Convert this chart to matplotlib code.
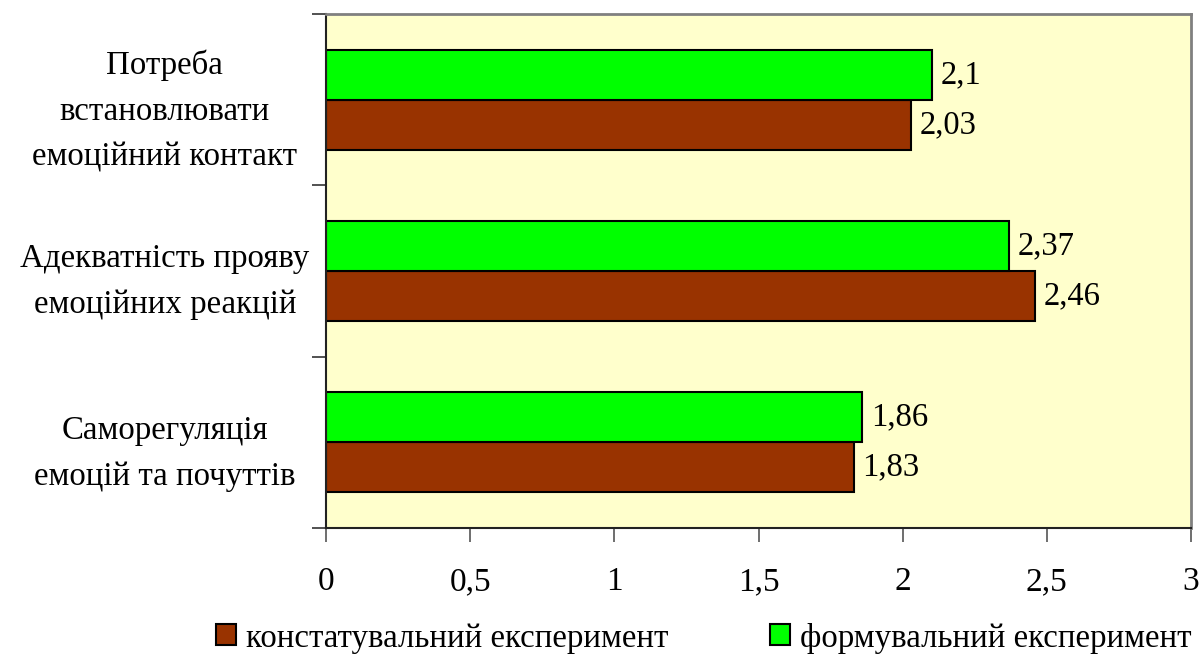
import matplotlib
matplotlib.use("Agg")
import matplotlib.pyplot as plt
from matplotlib.patches import Patch

plt.rcParams['font.family'] = ['Liberation Serif', 'DejaVu Serif']

categories = [
    "Саморегуляція\nемоцій та почуттів",
    "Адекватність прояву\nемоційних реакцій",
    "Потреба\nвстановлювати\nемоційний контакт",
]
series_names = ["констатувальний експеримент", "формувальний експеримент"]
konstat = [1.83, 2.46, 2.03]
formuv = [1.86, 2.37, 2.10]
value_labels_k = ["1,83", "2,46", "2,03"]
value_labels_f = ["1,86", "2,37", "2,1"]
x_ticks = [0, 0.5, 1, 1.5, 2, 2.5, 3]
x_tick_labels = ["0", "0,5", "1", "1,5", "2", "2,5", "3"]

brown = "#993300"
green = "#00FF00"

fig = plt.figure(figsize=(12.02, 6.55), dpi=100)
ax = fig.add_axes([326 / 1202, 1 - 528 / 655, (1191 - 326) / 1202, (528 - 14) / 655])
ax.set_facecolor("#FFFFCC")

h = 0.292
pos = list(range(len(categories)))
ax.barh([p - h / 2 for p in pos], konstat, height=h, color=brown,
        edgecolor="black", linewidth=1.5, label=series_names[0])
ax.barh([p + h / 2 for p in pos], formuv, height=h, color=green,
        edgecolor="black", linewidth=1.5, label=series_names[1])

for p, v, t in zip(pos, konstat, value_labels_k):
    ax.text(v + 0.03, p - h / 2, t, va="center", ha="left", fontsize=23.5)
for p, v, t in zip(pos, formuv, value_labels_f):
    ax.text(v + 0.03, p + h / 2, t, va="center", ha="left", fontsize=23.5)

ax.set_xlim(0, 3)
ax.set_ylim(-0.5, 2.5)
ax.set_xticks(x_ticks)
ax.set_xticklabels(x_tick_labels, fontsize=24)
ax.tick_params(axis="x", direction="out", length=10, width=1.2, color="#555555", pad=18)

ax.set_yticks([-0.5, 0.5, 1.5, 2.5])
ax.set_yticklabels([])
ax.tick_params(axis="y", which="major", direction="out", length=10, width=1.2, color="#333333")
ax.set_yticks(pos, minor=True)
ax.set_yticklabels(categories, minor=True, fontsize=23.7, ha="center", linespacing=1.65)
ax.tick_params(axis="y", which="minor", length=0, pad=116)

for side in ("left", "bottom"):
    ax.spines[side].set_color("#222222")
    ax.spines[side].set_linewidth(1.5)
for side in ("top", "right"):
    ax.spines[side].set_color("#808080")
    ax.spines[side].set_linewidth(2)

handles = [Patch(facecolor=brown, edgecolor="black", linewidth=1.5),
           Patch(facecolor=green, edgecolor="black", linewidth=1.5)]
fig.legend(handles, series_names, loc="center", bbox_to_anchor=(704 / 1202, 1 - 638 / 655),
           ncol=2, frameon=False, fontsize=23.7, handlelength=0.6, handleheight=0.6,
           handletextpad=0.3, columnspacing=3.1, borderaxespad=0)

fig.savefig("out.png", dpi=100)
